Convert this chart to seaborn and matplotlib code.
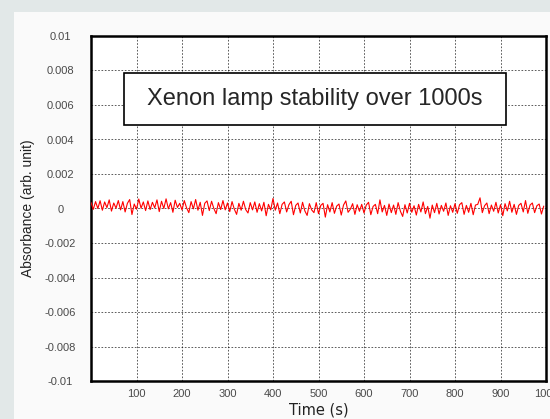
import numpy as np
import pandas as pd
import seaborn as sns
import matplotlib.pyplot as plt
from matplotlib.patches import Rectangle

# Data (absorbance in units of 1e-4, one value every 5 s)
absorbance_e4 = [
    3.5, -0.5, 4.0, 0.0, 4.5, -1.0, 3.8, 0.5, 5.0, -1.5, 3.2, 0.2, 4.6, -0.8, 4.0, -2.0, 3.0, 5.2, -3.5, 2.6,
    -0.4, 5.5, 0.2, 3.8, -1.2, 4.4, -0.6, 3.6, 0.4, 5.0, -1.8, 4.2, 0.0, 5.6, -0.2, 3.4, -2.2, 4.8, 0.6, 3.0,
    -0.8, 4.6, 0.4, -2.4, 4.0, -0.2, 5.2, -1.0, 3.6, -4.0, 3.0, 4.4, -1.2, 4.2, 0.0, -3.0, 3.4, -0.6, 4.6, -0.8,
    3.2, -1.8, 4.0, -0.4, -3.4, 3.0, -1.0, 4.2, -0.6, -2.6, 3.4, -0.8, 3.8, -2.2, 2.8, -1.4, 3.6, -4.2, 2.4, -0.8,
    5.8, -1.0, 3.2, -3.0, 2.4, 3.8, -2.0, 2.2, 4.2, -3.6, 1.8, 3.2, -2.6, 3.6, -1.4, -4.0, 2.8, -0.8, -2.4, 3.4,
    -3.0, 1.8, 3.0, -5.0, 2.2, -2.0, 3.4, -2.8, 1.4, 2.6, -3.8, 2.0, 4.4, -2.2, -0.4, 2.8, -3.4, 2.2, -1.6, 2.4,
    -2.6, 2.0, 3.6, -3.6, 1.2, 2.4, -3.0, 5.0, -2.0, 1.8, -4.0, 2.6, -2.4, 2.0, -3.4, 3.4, -1.6, -4.6, 2.2, -2.6,
    3.0, -2.2, 1.6, -3.8, 2.4, -2.0, 3.8, -3.0, 1.2, -5.6, 2.0, -2.4, 3.0, -3.2, 1.8, -1.6, 3.2, -4.0, 1.6, -2.2,
    2.8, -2.8, 2.2, 3.4, -3.4, 1.8, -2.2, 3.0, -3.6, 2.0, 2.4, 6.2, -2.4, 1.6, 3.2, -3.0, 2.0, -1.6, 3.6, -2.6,
    2.2, -4.2, 2.8, -1.4, 4.2, -2.2, 2.4, -3.4, 1.8, 3.0, -2.0, 4.6, -2.8, 2.0, 3.2, -2.4, 1.6, 2.6, -3.2, 1.4,
]
time_s = [5 * i for i in range(len(absorbance_e4))]

x_ticks = [100, 200, 300, 400, 500, 600, 700, 800, 900, 1000]
y_ticks = [-0.01, -0.008, -0.006, -0.004, -0.002, 0, 0.002, 0.004, 0.006, 0.008, 0.01]
y_tick_labels = ["-0.01", "-0.008", "-0.006", "-0.004", "-0.002", "0",
                 "0.002", "0.004", "0.006", "0.008", "0.01"]
title_text = "Xenon lamp stability over 1000s"

df = pd.DataFrame({"Time": time_s, "Absorbance": np.array(absorbance_e4) * 1e-4})

sns.set_style("white")
plt.rcParams["font.family"] = ["Liberation Sans", "DejaVu Sans"]

fig = plt.figure(figsize=(5.5, 4.19), dpi=100, facecolor="#e2e8e8")
# light slide panel behind the chart
fig.patches.append(Rectangle((14 / 550, 0), 1, 1 - 12 / 419, transform=fig.transFigure,
                             facecolor="#fafafa", edgecolor="none", zorder=-10))
ax = fig.add_axes([91 / 550, 38 / 419, 455 / 550, 345 / 419])
ax.set_facecolor("white")

sns.lineplot(data=df, x="Time", y="Absorbance", color="red", linewidth=0.8, ax=ax, zorder=3)

ax.set_xlim(0, 1000)
ax.set_ylim(-0.01, 0.01)
ax.set_xticks(x_ticks)
ax.set_xticklabels([str(t) for t in x_ticks])
ax.set_yticks(y_ticks)
ax.set_yticklabels(y_tick_labels, ha="center")
ax.tick_params(axis="y", length=0, pad=22, labelsize=8, labelcolor="#4a4a4a")
ax.tick_params(axis="x", length=0, pad=6, labelsize=8, labelcolor="#4a4a4a")
ax.grid(True, color="black", linestyle=(0, (2, 2)), linewidth=0.6, alpha=0.75)
ax.set_axisbelow(True)
for spine in ax.spines.values():
    spine.set_color("black")
    spine.set_linewidth(1.8)

ax.set_xlabel("Time (s)", fontsize=10.5, family="DejaVu Sans", color="#222222", labelpad=2)
ax.set_ylabel("Absorbance (arb. unit)", fontsize=10, color="#222222", labelpad=7)

# title box inside the plot
ax.add_patch(Rectangle((72, 0.00484), 840, 0.00302, facecolor="white", edgecolor="black",
                       linewidth=1.2, zorder=4))
ax.text(492, 0.00633, title_text, ha="center", va="center", fontsize=17, zorder=5)

plt.savefig("out.png", dpi=100, facecolor=fig.get_facecolor())
plt.close()
